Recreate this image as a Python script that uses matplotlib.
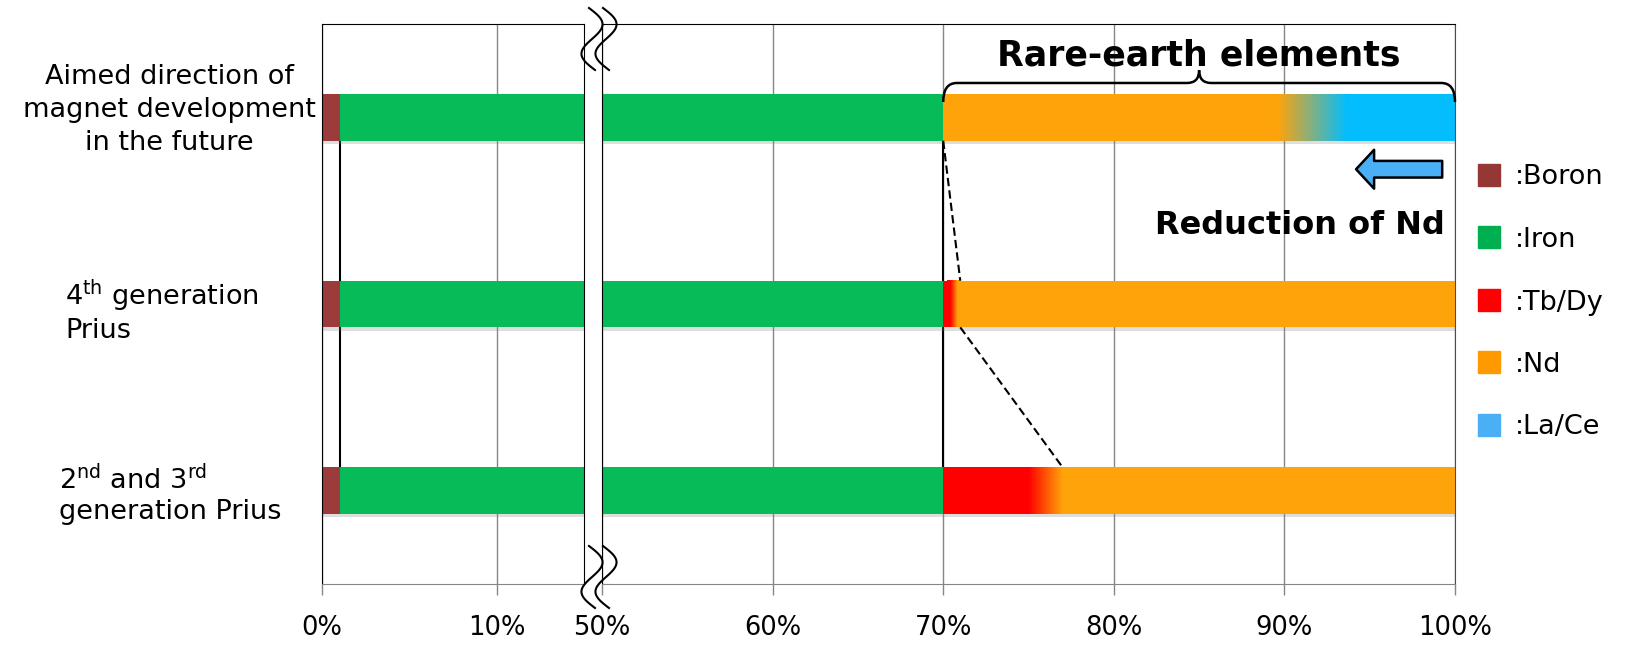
import numpy as np
import matplotlib
matplotlib.use("Agg")
import matplotlib.pyplot as plt
import matplotlib.patheffects as pe
from matplotlib.colors import LinearSegmentedColormap
from matplotlib.patches import Rectangle, PathPatch
from matplotlib.path import Path
from matplotlib.lines import Line2D

# rows, bottom first
rows = ["2$^{\\mathrm{nd}}$ and 3$^{\\mathrm{rd}}$\ngeneration Prius",
        "4$^{\\mathrm{th}}$ generation\nPrius",
        "Aimed direction of\nmagnet development\nin the future"]

# composition boundaries in % along each bar (bottom row first)
boron_end = [1, 1, 1]
iron_end = [70, 70, 70]
tbdy_end = [75, 70.4, 70]      # solid Tb/Dy stops here
nd_start = [77, 70.8, 70]      # Tb/Dy -> Nd blend until here
nd_end = [100, 100, 89.6]      # solid Nd stops here
lace_start = [100, 100, 93.6]  # Nd -> La/Ce blend until here
total = [100, 100, 100]

legend_names = [":Boron", ":Iron", ":Tb/Dy", ":Nd", ":La/Ce"]
legend_colors = ["#953735", "#00B050", "#FF0000", "#FF9900", "#4BAFF5"]

ticks_left = [0, 10]
ticks_right = [50, 60, 70, 80, 90, 100]

BORON = "#9B3B3B"
IRON = "#07BC58"
TBDY = "#FF0000"
ND = "#FFA30A"
LACE = "#04BDFD"
GRID = "#868686"
H = 0.25

W, HT = 1640, 657
fig = plt.figure(figsize=(W / 100, HT / 100), dpi=100)


def px(x, y):
    return x / W, 1 - y / HT


axl = fig.add_axes([322 / W, 73 / HT, 262 / W, 560 / HT])
axr = fig.add_axes([602 / W, 73 / HT, 853 / W, 560 / HT])


def gradient(ax, x0, x1, yc, c0, c1):
    if x1 <= x0:
        return
    # image runs a little past both ends so no seam shows against the bars
    pad = 0.2
    p = pad / (x1 - x0 + 2 * pad)
    cmap = LinearSegmentedColormap.from_list(
        "g", [(0, c0), (p, c0), (1 - p, c1), (1, c1)])
    ax.imshow(np.linspace(0, 1, 512).reshape(1, -1), cmap=cmap, aspect="auto",
              extent=[x0 - pad, x1 + pad, yc - H / 2, yc + H / 2], zorder=3,
              interpolation="bilinear")


def draw_bars(ax):
    y = np.arange(len(rows))
    shadow = [pe.SimplePatchShadow(offset=(0.5, -2.5), shadow_rgbFace="#7f7f7f", alpha=0.25),
              pe.Normal()]
    segs = [(np.zeros(len(rows)), boron_end, BORON),
            (boron_end, iron_end, IRON),
            (iron_end, tbdy_end, TBDY),
            (tbdy_end, nd_start, TBDY),
            (nd_start, nd_end, ND),
            (nd_end, lace_start, ND),
            (lace_start, total, LACE)]
    for a, b, c in segs:
        a = np.asarray(a, float)
        b = np.asarray(b, float)
        m = b > a
        ax.barh(y[m], (b - a)[m], left=a[m], height=H, color=c,
                path_effects=shadow, zorder=2)
    for i in y:
        gradient(ax, tbdy_end[i], nd_start[i], i, TBDY, ND)
        gradient(ax, nd_end[i], lace_start[i], i, ND, LACE)


draw_bars(axl)
draw_bars(axr)

for ax, ticks in ((axl, ticks_left), (axr, ticks_right)):
    ax.set_ylim(-0.5, 2.5)
    ax.set_yticks([])
    ax.set_xticks(ticks)
    ax.set_xticklabels(["%d%%" % t for t in ticks])
    ax.grid(axis="x", color=GRID, lw=1)
    ax.set_axisbelow(True)
    ax.tick_params(axis="x", length=8, color=GRID, width=1, labelsize=18.5, pad=14.5)
    ax.spines["bottom"].set_color(GRID)
    ax.spines["top"].set_color("k")
    ax.spines["left"].set_color("k")

axl.set_xlim(0, 14.97)
axl.spines["right"].set_color("k")
axr.set_xlim(50, 100)
axr.spines["right"].set_color("#4d4d4d")

# connector lines
axl.plot([1, 1], [2 - H / 2, H / 2], color="k", lw=1.5, zorder=1.5)
axr.plot([70, 70], [2 - H / 2, H / 2], color="k", lw=1.5, zorder=1.5)
axr.plot([70, 71], [2 - H / 2, 1 + H / 2], color="k", lw=1.5, ls=(0, (4, 2)), zorder=4)
axr.plot([71, 77], [1 - H / 2, H / 2], color="k", lw=1.5, ls=(0, (4, 2)), zorder=4)

# brace over the rare-earth part
yb, yt, ye = 2.184, 2.253, 2.082
verts = [(70, ye), (70, yb), (70.8, yb),
         (84.3, yb), (85, yb), (85, yt),
         (85, yb), (85.7, yb),
         (99.2, yb), (100, yb), (100, ye)]
codes = [Path.MOVETO, Path.CURVE3, Path.CURVE3,
         Path.LINETO, Path.CURVE3, Path.CURVE3,
         Path.CURVE3, Path.CURVE3,
         Path.LINETO, Path.CURVE3, Path.CURVE3]
axr.add_patch(PathPatch(Path(verts, codes), fc="none", ec="k", lw=1.8,
                        zorder=5, clip_on=False))
axr.text(85, 2.28, "Rare-earth elements", ha="center", va="baseline",
         fontsize=25, fontweight="bold")

# arrow and note
axr.annotate("", xy=(94.2, 1.722), xytext=(99.25, 1.722),
             arrowprops=dict(arrowstyle="simple,head_length=0.65,head_width=1.4,tail_width=0.6",
                             fc="#4BAFF5", ec="k", lw=1.8, shrinkA=0, shrinkB=0,
                             mutation_scale=20))
axr.text(99.4, 1.375, "Reduction of Nd", ha="right", va="baseline",
         fontsize=23, fontweight="bold")

# row labels (y = baseline of last line)
fig.text(*px(169, 150), rows[2], ha="center", va="baseline", fontsize=19.5,
         multialignment="center", linespacing=1.36)
fig.text(*px(65, 338), rows[1], ha="left", va="baseline", fontsize=19.5, linespacing=1.18)
fig.text(*px(59, 519), rows[0], ha="left", va="baseline", fontsize=19.5, linespacing=1.18)

# legend
for i, (name, col) in enumerate(zip(legend_names, legend_colors)):
    yc = 174.5 + 62.5 * i
    x0, y0 = px(1478, yc + 11)
    fig.add_artist(Rectangle((x0, y0), 22 / W, 22 / HT, color=col,
                             transform=fig.transFigure))
    fig.text(*px(1515, yc + 10), name, ha="left", va="baseline", fontsize=19.5)

# axis break marks
t = np.linspace(0, 1, 80)
for y0, yspan in ((8, 62), (546, 62)):
    for dx in (-7, 7):
        xs = 599 + dx + 12 * np.sin(2 * np.pi * t) + 6 * (t - 0.5)
        ys = y0 + yspan * t
        fig.add_artist(Line2D(xs / W, 1 - ys / HT, color="k", lw=1.5,
                              transform=fig.transFigure))

fig.savefig("out.png", dpi=100)
